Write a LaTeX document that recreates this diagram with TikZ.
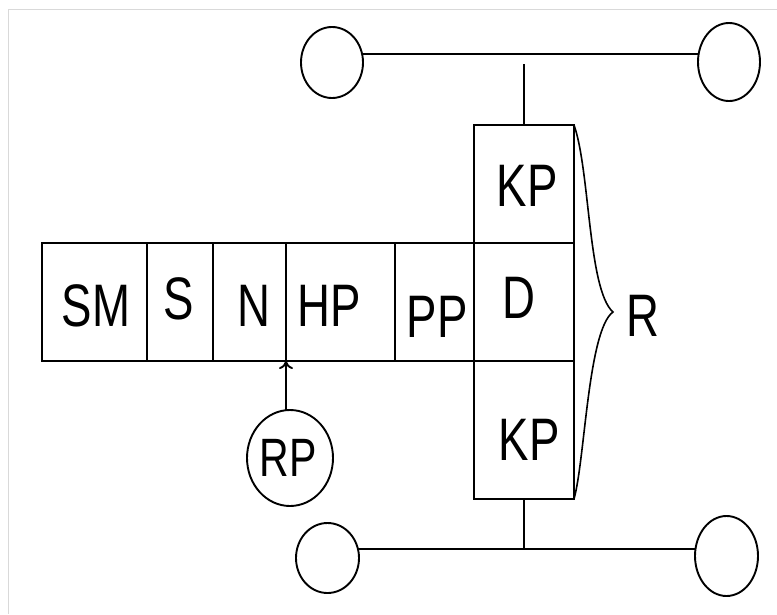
\documentclass[tikz,border=0pt]{standalone}
\usepackage{fontspec}
\usetikzlibrary{shapes.geometric,arrows.meta}
\newfontfamily\labfont{Liberation Sans}[FakeStretch=0.76]
\tikzset{
  cell/.style={draw, rectangle, line width=1.9pt, inner sep=0pt, outer sep=0pt},
  txt/.style={inner sep=0pt, outer sep=0pt, font=\labfont\fontsize{60}{72}\selectfont},
  ring/.style={draw, ellipse, line width=1.9pt, inner sep=0pt, outer sep=0pt},
  wire/.style={line width=1.9pt},
}
\begin{document}
\begin{tikzpicture}[x=1pt, y=-1pt]
\useasboundingbox (0,0) rectangle (777,614);
\draw[black!15, line width=1pt] (8,614) -- (8,9) -- (777,9);
% strip cells
\node[cell, minimum width=105pt, minimum height=118pt] (sm) at (94.5,302) {};
\node[cell, minimum width=66pt,  minimum height=118pt] (s)  at (180,302) {};
\node[cell, minimum width=73pt,  minimum height=118pt] (n)  at (249.5,302) {};
\node[cell, minimum width=109pt, minimum height=118pt] (hp) at (340.5,302) {};
\node[cell, minimum width=79pt,  minimum height=118pt] (pp) at (434.5,302) {};
\node[cell, minimum width=100pt, minimum height=118pt] (d)  at (524,302) {};
\node[cell, minimum width=100pt, minimum height=118pt] (kp1) at (524,184) {};
\node[cell, minimum width=100pt, minimum height=138pt] (kp2) at (524,430) {};
% labels
\node[txt] (tsm) at (96,306) {SM};
\node[txt] (ts)  at (179,299) {S};
\node[txt] (tn)  at (254,306) {N};
\node[txt] (thp) at (329,306) {HP};
\node[txt] (tpp) at (437,317) {PP};
\node[txt] (td)  at (519,298) {D};
\node[txt] (tkp1) at (527,186) {KP};
\node[txt] (tkp2) at (529,440) {KP};
\node[txt] (tr)  at (643,316) {R};
% circles
\node[ring, minimum width=62pt, minimum height=71pt] (ctl) at (332,62.5) {};
\node[ring, minimum width=62pt, minimum height=78pt] (ctr) at (729,62) {};
\node[ring, minimum width=63pt, minimum height=70pt] (cbl) at (327.5,558) {};
\node[ring, minimum width=63pt, minimum height=80pt] (cbr) at (726.5,556) {};
\node[ring, minimum width=86pt, minimum height=96pt] (rp) at (290,458) {};
\node[txt, font=\labfont\fontsize{54}{64}\selectfont] (trp) at (288,458) {RP};
% top and bottom wires
\coordinate (tj) at (524,54);
\coordinate (bj) at (524,549);
\draw[wire] (tj -| ctl.east) ++(-1,0) -- (tj -| ctr.west);
\draw[wire] (kp1.north) -- ++(0,-61);
\draw[wire] (bj -| cbl.east) ++(-1,0) -- (bj -| cbr.west);
\draw[wire] (kp2.south) -- (bj);
% RP arrow
\coordinate (nb) at (286,361);
\draw[wire, -{To[length=8pt,width=14pt]}] (rp.north -| nb) -- (nb);
% brace
\draw[line width=1.6pt] (kp1.north east) .. controls (590,170) and (588,290) .. (613,312)
  .. controls (588,330) and (585,460) .. (kp2.south east);
\end{tikzpicture}
\end{document}
